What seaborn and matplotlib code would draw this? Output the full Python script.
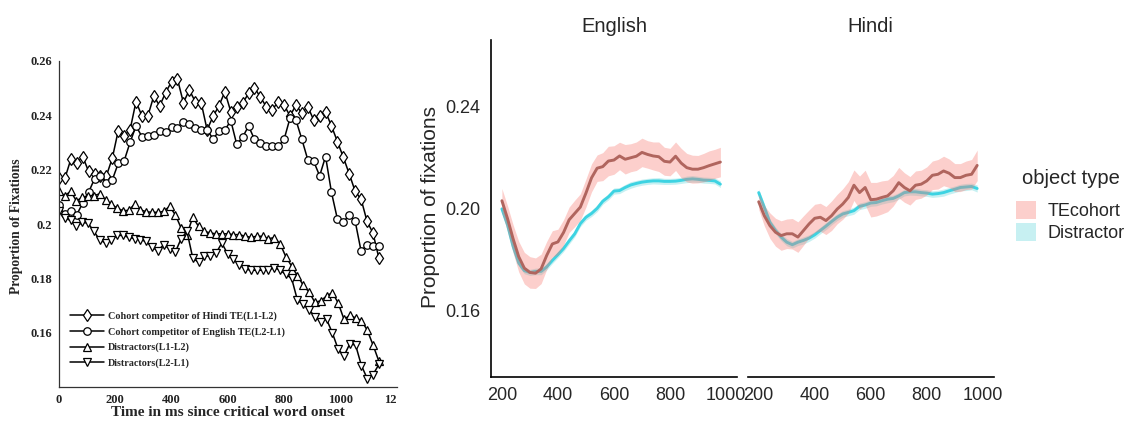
import numpy as np
import pandas as pd
import matplotlib
matplotlib.use("Agg")
import matplotlib.pyplot as plt
import seaborn as sns
from matplotlib.patches import Patch
from matplotlib.transforms import Bbox, TransformedBbox

# ---------------- left panel: eye-tracking proportions ----------------
hindi_cohort = [0.2168, 0.2168, 0.2238, 0.2223, 0.2248, 0.2193, 0.2184, 0.2175, 0.2177, 0.2242,
                0.2343, 0.2324, 0.2346, 0.2450, 0.2397, 0.2397, 0.2470, 0.2434, 0.2483, 0.2523,
                0.2532, 0.2446, 0.2492, 0.2450, 0.2446, 0.2346, 0.2395, 0.2434, 0.2486, 0.2413,
                0.2431, 0.2444, 0.2480, 0.2501, 0.2466, 0.2431, 0.2419, 0.2450, 0.2437, 0.2397,
                0.2437, 0.2407, 0.2431, 0.2382, 0.2397, 0.2413, 0.2360, 0.2303, 0.2245, 0.2184,
                0.2120, 0.2091, 0.2010, 0.1967, 0.1875]
english_cohort = [0.2068, 0.2035, 0.2046, 0.2034, 0.2077, 0.2117, 0.2166, 0.2175, 0.2150, 0.2162,
                  0.2223, 0.2232, 0.2300, 0.2360, 0.2321, 0.2325, 0.2327, 0.2342, 0.2337, 0.2358,
                  0.2354, 0.2376, 0.2367, 0.2354, 0.2346, 0.2346, 0.2313, 0.2340, 0.2345, 0.2380,
                  0.2293, 0.2319, 0.2360, 0.2311, 0.2297, 0.2285, 0.2285, 0.2285, 0.2311, 0.2389,
                  0.2382, 0.2311, 0.2236, 0.2230, 0.2177, 0.2248, 0.2116, 0.2018, 0.2006, 0.2034,
                  0.2010, 0.1900, 0.1924, 0.1920, 0.1918]
distr_l1l2 = [0.2120, 0.2104, 0.2120, 0.2085, 0.2098, 0.2104, 0.2104, 0.2111, 0.2089, 0.2073,
              0.2058, 0.2049, 0.2050, 0.2073, 0.2052, 0.2045, 0.2043, 0.2043, 0.2046, 0.2065,
              0.2034, 0.1985, 0.1961, 0.2025, 0.1991, 0.1973, 0.1967, 0.1964, 0.1964, 0.1964,
              0.1961, 0.1961, 0.1955, 0.1951, 0.1955, 0.1955, 0.1946, 0.1950, 0.1928, 0.1880,
              0.1845, 0.1810, 0.1775, 0.1750, 0.1712, 0.1718, 0.1735, 0.1748, 0.1710, 0.1650,
              0.1664, 0.1655, 0.1645, 0.1610, 0.1555, 0.1496]
distr_l2l1 = [0.2046, 0.2022, 0.2013, 0.1991, 0.2006, 0.2003, 0.1973, 0.1942, 0.1930, 0.1942,
              0.1958, 0.1958, 0.1951, 0.1946, 0.1942, 0.1936, 0.1914, 0.1902, 0.1924, 0.1909,
              0.1897, 0.1946, 0.1973, 0.1875, 0.1859, 0.1881, 0.1884, 0.1893, 0.1930, 0.1890,
              0.1870, 0.1850, 0.1835, 0.1830, 0.1830, 0.1830, 0.1830, 0.1840, 0.1830, 0.1815,
              0.1800, 0.1720, 0.1705, 0.1685, 0.1660, 0.1640, 0.1650, 0.1600, 0.1540, 0.1515,
              0.1560, 0.1555, 0.1480, 0.1432, 0.1447, 0.1484]
left_labels = ["Cohort competitor of Hindi TE(L1-L2)", "Cohort competitor of English TE(L2-L1)",
               "Distractors(L1-L2)", "Distractors(L2-L1)"]
left_markers = ["d", "o", "^", "v"]
left_ticks_y = [0.16, 0.18, 0.2, 0.22, 0.24, 0.26]
left_ticklabels_y = ["0.16", "0.18", "0.2", "0.22", "0.24", "0.26"]

# ---------------- right panels: growth curves by language ----------------
time_right = list(range(200, 1000, 20))
en_te = [0.2030, 0.1960, 0.1880, 0.1810, 0.1765, 0.1748, 0.1745, 0.1762, 0.1815, 0.1860,
         0.1868, 0.1905, 0.1955, 0.1980, 0.2005, 0.2060, 0.2120, 0.2158, 0.2164, 0.2186,
         0.2190, 0.2206, 0.2193, 0.2199, 0.2205, 0.2220, 0.2212, 0.2206, 0.2203, 0.2185,
         0.2182, 0.2205, 0.2178, 0.2160, 0.2154, 0.2154, 0.2160, 0.2168, 0.2175, 0.2182]
en_te_se = [0.0048, 0.0050, 0.0055, 0.0060, 0.0062, 0.0062, 0.0060, 0.0058, 0.0055, 0.0052,
            0.0050, 0.0050, 0.0050, 0.0052, 0.0052, 0.0055, 0.0055, 0.0052, 0.0055, 0.0058,
            0.0056, 0.0054, 0.0058, 0.0055, 0.0056, 0.0056, 0.0054, 0.0055, 0.0058, 0.0055,
            0.0054, 0.0056, 0.0058, 0.0056, 0.0055, 0.0054, 0.0056, 0.0058, 0.0057, 0.0058]
en_dis = [0.1998, 0.1935, 0.1850, 0.1785, 0.1755, 0.1748, 0.1752, 0.1752, 0.1770, 0.1795,
          0.1818, 0.1842, 0.1872, 0.1900, 0.1940, 0.1965, 0.1980, 0.2000, 0.2028, 0.2045,
          0.2068, 0.2070, 0.2082, 0.2092, 0.2098, 0.2103, 0.2106, 0.2108, 0.2108, 0.2106,
          0.2106, 0.2107, 0.2110, 0.2114, 0.2116, 0.2114, 0.2111, 0.2110, 0.2108, 0.2095]
en_dis_se = [0.0012, 0.0013, 0.0013, 0.0012, 0.0012, 0.0012, 0.0013, 0.0013, 0.0012, 0.0012,
             0.0012, 0.0012, 0.0013, 0.0012, 0.0012, 0.0012, 0.0012, 0.0013, 0.0012, 0.0012,
             0.0012, 0.0012, 0.0012, 0.0013, 0.0012, 0.0012, 0.0012, 0.0012, 0.0013, 0.0012,
             0.0012, 0.0012, 0.0012, 0.0013, 0.0013, 0.0012, 0.0012, 0.0012, 0.0012, 0.0013]
hi_te = [0.2026, 0.1971, 0.1932, 0.1906, 0.1893, 0.1900, 0.1900, 0.1887, 0.1913, 0.1939,
         0.1961, 0.1965, 0.1952, 0.1971, 0.1997, 0.2017, 0.2043, 0.2091, 0.2062, 0.2082,
         0.2034, 0.2036, 0.2043, 0.2049, 0.2069, 0.2101, 0.2082, 0.2069, 0.2091, 0.2095,
         0.2108, 0.2130, 0.2134, 0.2147, 0.2138, 0.2121, 0.2121, 0.2130, 0.2134, 0.2169]
hi_te_se = [0.0030, 0.0040, 0.0050, 0.0055, 0.0058, 0.0058, 0.0060, 0.0060, 0.0058, 0.0055,
            0.0055, 0.0055, 0.0055, 0.0058, 0.0058, 0.0060, 0.0062, 0.0060, 0.0065, 0.0068,
            0.0068, 0.0066, 0.0065, 0.0062, 0.0060, 0.0060, 0.0058, 0.0056, 0.0056, 0.0055,
            0.0055, 0.0056, 0.0058, 0.0058, 0.0056, 0.0055, 0.0055, 0.0056, 0.0058, 0.0060]
hi_dis = [0.2062, 0.2004, 0.1945, 0.1913, 0.1887, 0.1867, 0.1857, 0.1867, 0.1874, 0.1883,
          0.1896, 0.1913, 0.1930, 0.1948, 0.1965, 0.1978, 0.1984, 0.1991, 0.2008, 0.2013,
          0.2021, 0.2023, 0.2030, 0.2036, 0.2039, 0.2049, 0.2062, 0.2065, 0.2065, 0.2062,
          0.2060, 0.2056, 0.2058, 0.2062, 0.2069, 0.2075, 0.2082, 0.2084, 0.2086, 0.2078]
hi_dis_se = [0.0014, 0.0014, 0.0013, 0.0013, 0.0014, 0.0014, 0.0013, 0.0013, 0.0014, 0.0013,
             0.0013, 0.0013, 0.0014, 0.0013, 0.0013, 0.0013, 0.0013, 0.0014, 0.0013, 0.0013,
             0.0013, 0.0013, 0.0013, 0.0014, 0.0013, 0.0013, 0.0013, 0.0013, 0.0014, 0.0013,
             0.0013, 0.0013, 0.0013, 0.0014, 0.0013, 0.0013, 0.0013, 0.0014, 0.0013, 0.0014]
languages = ["English", "Hindi"]
object_types = ["TEcohort", "Distractor"]

W, H = 1124, 423
SERIF = ["Liberation Serif", "DejaVu Serif"]
SANS = ["Liberation Sans", "DejaVu Sans"]

line_col = {"TEcohort": "#B0655E", "Distractor": "#3DD3E2"}
band_col = {"TEcohort": "#F8766D", "Distractor": "#00BFC4"}
band_alpha = {"TEcohort": 0.35, "Distractor": 0.22}


def build_right_frame():
    rows = []
    series = {("English", "TEcohort"): (en_te, en_te_se), ("English", "Distractor"): (en_dis, en_dis_se),
              ("Hindi", "TEcohort"): (hi_te, hi_te_se), ("Hindi", "Distractor"): (hi_dis, hi_dis_se)}
    for (lang, obj), (vals, se) in series.items():
        for t, v, s in zip(time_right, vals, se):
            rows.append({"time": t, "prop": v, "se": s, "language": lang, "object type": obj})
    return pd.DataFrame(rows)


def draw_left(fig):
    ax = fig.add_axes([59 / W, 1 - 387.3 / H, 337.6 / W, 326.6 / H])
    for vals, lab, mk in zip([hindi_cohort, english_cohort, distr_l1l2, distr_l2l1], left_labels, left_markers):
        t = np.linspace(0, 1137, len(vals))
        sns.lineplot(x=t, y=vals, ax=ax, color="black", lw=1.1, marker=mk,
                     markersize=6.2 if mk == "d" else 5.4, markerfacecolor="white",
                     markeredgecolor="black", markeredgewidth=0.9, label=lab)
    ax.set_xlim(0, 1200)
    ax.set_ylim(0.14, 0.26)
    ax.set_xticks(range(0, 1201, 200))
    ax.set_yticks(left_ticks_y)
    ax.set_yticklabels(left_ticklabels_y)
    for side in ["top", "right"]:
        ax.spines[side].set_visible(False)
    for side in ["left", "bottom"]:
        ax.spines[side].set_color("#333333")
        ax.spines[side].set_linewidth(0.9)
    ax.tick_params(direction="in", length=3, width=0.8, pad=5, colors="#222222")
    for lbl in ax.get_xticklabels() + ax.get_yticklabels():
        lbl.set_fontfamily(SERIF)
        lbl.set_fontweight("bold")
        lbl.set_fontsize(9)
    # the source image is cropped just after the 1200 label starts
    clip = TransformedBbox(Bbox([[0, 0], [397 / W, 1]]), fig.transFigure)
    for lbl in ax.get_xticklabels():
        lbl.set_clip_box(clip)
        lbl.set_clip_on(True)
    ax.set_xlabel("Time in ms since critical word onset", fontfamily=SERIF, fontweight="bold",
                  fontsize=11, va="center")
    ax.xaxis.set_label_coords(0.5, (387.3 - 412) / 326.6)
    ax.set_ylabel("Proportion of Fixations", fontfamily=SERIF, fontweight="bold",
                  fontsize=9.8, va="center")
    ax.yaxis.set_label_coords((17 - 59) / 337.6, (387.3 - 226) / 326.6)
    ax.legend(loc="upper left", bbox_to_anchor=(70 / W, 1 - 311 / H),
              bbox_transform=fig.transFigure, frameon=False, numpoints=1,
              handlelength=3.4, handletextpad=0.3, labelspacing=0.62,
              borderpad=0, borderaxespad=0,
              prop={"family": SERIF, "weight": "bold", "size": 7.3})
    return ax


def draw_right(fig, df):
    axes = []
    lefts = [490.7, 747.5]
    for i, lang in enumerate(languages):
        ax = fig.add_axes([lefts[i] / W, 1 - 376.7 / H, 246.5 / W, 336.7 / H])
        sub = df[df["language"] == lang]
        for z, obj in [(2, "Distractor"), (4, "TEcohort")]:
            d = sub[sub["object type"] == obj]
            ax.fill_between(d["time"], d["prop"] - d["se"], d["prop"] + d["se"],
                            color=band_col[obj], alpha=band_alpha[obj], lw=0, zorder=z)
            sns.lineplot(data=d, x="time", y="prop", ax=ax, color=line_col[obj], lw=2.1,
                         zorder=z + 1, legend=False)
        ax.set_xlim(160, 1040)
        ax.set_ylim(0.1338, 0.2662)
        ax.set_xticks([200, 400, 600, 800, 1000])
        ax.set_yticks([0.16, 0.20, 0.24])
        ax.set_yticklabels(["0.16", "0.20", "0.24"])
        for side in ["top", "right"]:
            ax.spines[side].set_visible(False)
        for side in ["left", "bottom"]:
            ax.spines[side].set_linewidth(1.2)
            ax.spines[side].set_color("black")
        ax.tick_params(direction="out", length=4, width=1.0, pad=3.5, labelsize=13)
        ax.set_xlabel("")
        ax.set_ylabel("")
        ax.set_title(lang, fontsize=14.5, y=(376.7 - 27) / 336.7, va="center", pad=0)
        if i == 0:
            ax.set_ylabel("Proportion of fixations", fontsize=15, va="center")
            ax.yaxis.set_label_coords((430 - 490.7) / 246.5, (376.7 - 207) / 336.7)
        else:
            ax.spines["left"].set_visible(False)
            ax.tick_params(left=False, labelleft=False)
        axes.append(ax)

    # legend title is set separately so the gap above the keys matches ggplot's
    fig.text(1022.5 / W, 1 - 178 / H, "object type", fontsize=14.5, ha="left", va="center")
    handles = [Patch(facecolor=band_col[o], alpha=band_alpha[o], edgecolor="none") for o in object_types]
    fig.legend(handles, object_types, loc="upper left",
               bbox_to_anchor=(1016 / W, 1 - 201 / H), frameon=False,
               handlelength=1.1, handleheight=1.15, handletextpad=0.65, labelspacing=0.15,
               borderpad=0, borderaxespad=0, fontsize=13)
    return axes


def main():
    sns.set_style("white")
    plt.rcParams["font.family"] = SANS
    fig = plt.figure(figsize=(W / 100, H / 100), dpi=100)
    draw_left(fig)
    draw_right(fig, build_right_frame())
    fig.savefig("out.png", dpi=100)
    plt.close(fig)


if __name__ == "__main__":
    main()
